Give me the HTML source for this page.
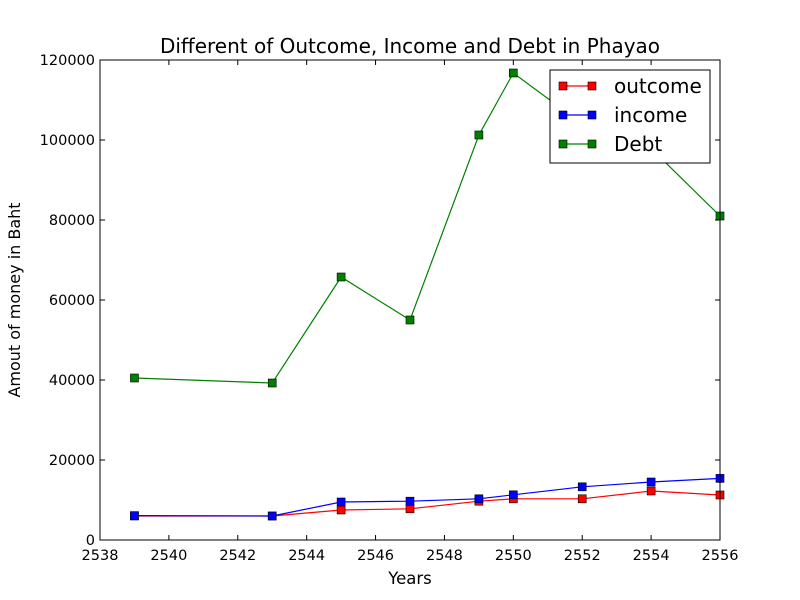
<!DOCTYPE html>
<html><head><meta charset="utf-8"><style>
body{margin:0;background:#fff;}
svg{display:block;font-family:"DejaVu Sans","Liberation Sans",sans-serif;}
</style></head><body>
<svg id="chart" width="800" height="600">
<rect width="800" height="600" fill="#fff"/>
<g id="plot"></g>
</svg>
<script>
const years=[2539,2543,2545,2547,2549,2550,2552,2554,2556];
const outcome=[6000,6000,7500,7800,9700,10300,10300,12250,11250];
const income=[6100,6000,9500,9700,10300,11300,13300,14500,15400];
const debt=[40500,39250,65750,55000,101250,116750,104000,97900,81000];
const xTicks=[2538,2540,2542,2544,2546,2548,2550,2552,2554,2556];
const yTicks=[0,20000,40000,60000,80000,100000,120000];
const L=100,R=720,T=60,B=540;
const xs=v=>L+(v-2538)/(2556-2538)*(R-L);
const ys=v=>B-v/120000*(B-T);
const NS="http://www.w3.org/2000/svg";
const g=document.getElementById('plot');
function mk(tag,attrs,parent){const e=document.createElementNS(NS,tag);for(const k in attrs)e.setAttribute(k,attrs[k]);(parent||g).appendChild(e);return e;}
const series=[["outcome",outcome,"#ff0000"],["income",income,"#0000ff"],["debt",debt,"#008000"]];
series.forEach(([n,d,c])=>{
 const gg=mk('g',{});
 
 
 const pl=mk('polyline',{points:d.map((v,i)=>xs(years[i])+','+ys(v)).join(' '),fill:'none',stroke:c,'stroke-width':1.2},gg);
 
 
 d.forEach((v,i)=>{
  const r=mk('rect',{x:xs(years[i])-4,y:ys(v)-4,width:8,height:8,fill:c,stroke:'#000','stroke-width':0.6},gg);
  
  
 });
});
const ax=mk('rect',{x:L,y:T,width:R-L,height:B-T,fill:'none',stroke:'#000','stroke-width':1});


xTicks.forEach(t=>{
 const x=xs(t);
 mk('line',{x1:x,x2:x,y1:B,y2:B-5,stroke:'#000'});
 mk('line',{x1:x,x2:x,y1:T,y2:T+5,stroke:'#000'});
 const tx=mk('text',{x:x,y:B+20,'text-anchor':'middle','font-size':14.5});
 tx.textContent=t;
 
 
});
yTicks.forEach(t=>{
 const y=ys(t);
 mk('line',{x1:L,x2:L+5,y1:y,y2:y,stroke:'#000'});
 mk('line',{x1:R,x2:R-5,y1:y,y2:y,stroke:'#000'});
 const tx=mk('text',{x:L-5,y:y+5,'text-anchor':'end','font-size':14.5});
 tx.textContent=t;
 
 
});
let e=mk('text',{x:410,y:53,'text-anchor':'middle','font-size':20});e.textContent='Different of Outcome, Income and Debt in Phayao';


e=mk('text',{x:410,y:584,'text-anchor':'middle','font-size':16.5});e.textContent='Years';


e=mk('text',{x:20,y:300,'text-anchor':'middle','font-size':16,transform:'rotate(-90 20 300)'});e.textContent='Amout of money in Baht';


const lg=mk('g',{});


mk('rect',{x:550,y:70,width:160,height:93,fill:'#fff',stroke:'#000','stroke-width':1},lg);
series.forEach(([n,d,c],i)=>{
 const y=86+i*29;
 const le=mk('g',{},lg);
 
 
 mk('line',{x1:563,x2:592,y1:y,y2:y,stroke:c,'stroke-width':1.2},le);
 mk('rect',{x:559,y:y-4,width:8,height:8,fill:c,stroke:'#000','stroke-width':0.6},le);
 mk('rect',{x:588,y:y-4,width:8,height:8,fill:c,stroke:'#000','stroke-width':0.6},le);
 const t=mk('text',{x:614,y:y+7,'font-size':20},le);
 t.textContent=['outcome','income','Debt'][i];
});
</script>
</body></html>
